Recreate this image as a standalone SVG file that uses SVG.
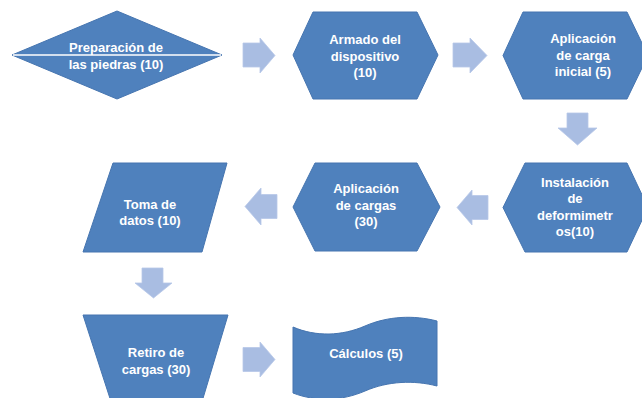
<svg xmlns="http://www.w3.org/2000/svg" width="642" height="398" viewBox="0 0 642 398">
  <style>
    .shape { fill: #4f81bd; stroke: #4675b0; stroke-width: 1; }
    .arrow { fill: #a9bde2; stroke: #b7c8e8; stroke-width: 0.8; }
    .lbl { font-family: "Liberation Sans", Arial, sans-serif; font-size: 13px; font-weight: bold; fill: #ffffff; text-anchor: middle; dominant-baseline: central; }
  </style>
  <rect width="642" height="398" fill="#ffffff"/>

  <g id="connectors">
    <polygon class="arrow" points="243,43 260,43 260,38 275,55.5 260,73 260,67 243,67"/>
    <polygon class="arrow" points="453,43 470,43 470,38 487,55.5 470,73 470,67 453,67"/>
    <polygon class="arrow" points="567,113 588,113 588,128 597,128 577.5,145 558,128 567,128"/>
    <polygon class="arrow" points="488,195.5 472,195.5 472,190 457,207.5 472,225 472,219.5 488,219.5"/>
    <polygon class="arrow" points="277,194.5 261,194.5 261,188 245,206.5 261,225 261,218.5 277,218.5"/>
    <polygon class="arrow" points="142,268 163,268 163,283 172,283 153.5,298 135,283 142,283"/>
    <polygon class="arrow" points="243,347.5 260,347.5 260,342 275,359.5 260,377 260,371.5 243,371.5"/>
  </g>

  <g id="n1">
    <polygon class="shape" points="12,55 117,11 222,55 117,99"/>
    <line x1="13" y1="55" x2="221" y2="55" stroke="#ffffff" stroke-width="1.5"/>
    <text class="lbl" x="116" y="47">Preparación de</text>
    <text class="lbl" x="116" y="64">las piedras (10)</text>
  </g>

  <g id="n2">
    <polygon class="shape" points="293,55 313,12 417,12 438,55 417,99 313,99"/>
    <text class="lbl" x="365" y="39.5">Armado del</text>
    <text class="lbl" x="365" y="56">dispositivo</text>
    <text class="lbl" x="365" y="72.5">(10)</text>
  </g>

  <g id="n3">
    <polygon class="shape" points="503,55.5 523,12 627,12 648,55.5 627,99 523,99"/>
    <text class="lbl" x="583" y="38.5">Aplicación</text>
    <text class="lbl" x="583" y="55">de carga</text>
    <text class="lbl" x="583" y="71.5">inicial (5)</text>
  </g>

  <g id="n4">
    <polygon class="shape" points="503,207.5 525,163 627,163 648,207.5 627,252 525,252"/>
    <text class="lbl" x="575" y="182">Instalación</text>
    <text class="lbl" x="575" y="198.5">de</text>
    <text class="lbl" x="575" y="215">deformimetr</text>
    <text class="lbl" x="575" y="231.5">os(10)</text>
  </g>

  <g id="n5">
    <polygon class="shape" points="293,207 315,163 417,163 440,207 417,251 315,251"/>
    <text class="lbl" x="366" y="188.5">Aplicación</text>
    <text class="lbl" x="366" y="205">de cargas</text>
    <text class="lbl" x="366" y="221.5">(30)</text>
  </g>

  <g id="n6">
    <polygon class="shape" points="113,163 227,163 202,252 83,252"/>
    <text class="lbl" x="150" y="204">Toma de</text>
    <text class="lbl" x="150" y="220">datos (10)</text>
  </g>

  <g id="n7">
    <polygon class="shape" points="83,315 228,315 202.5,400 110.5,400"/>
    <text class="lbl" x="156" y="352">Retiro de</text>
    <text class="lbl" x="156" y="369.5">cargas (30)</text>
  </g>

  <g id="n8">
    <path class="shape" d="M293,327 C316,337 342,336 365,326 C388,316 414,315 437,321 L437,386 C414,380 388,381 365,391 C342,401 316,402 293,393 Z"/>
    <text class="lbl" x="366" y="353">Cálculos (5)</text>
  </g>
</svg>
